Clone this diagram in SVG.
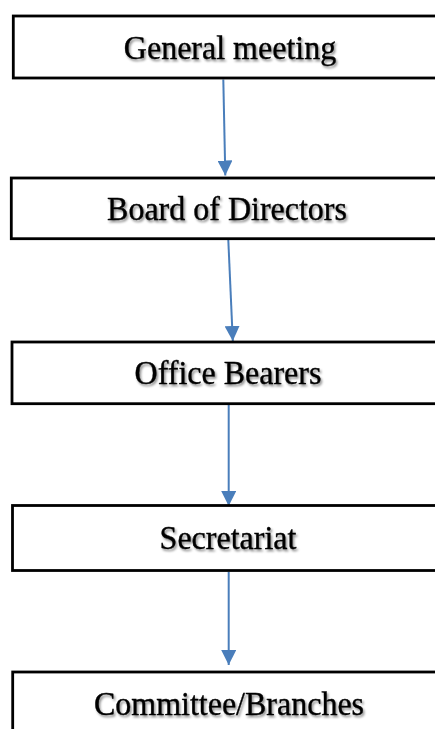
<svg xmlns="http://www.w3.org/2000/svg" width="435" height="729" viewBox="0 0 435 729">
  <defs>
    <style>
      .box { fill: #ffffff; stroke: #000000; stroke-width: 2.8; }
      .label { font-family: "Liberation Serif", "Times New Roman", serif; font-size: 32px; fill: #000000; stroke: #000000; stroke-width: 0.35; text-anchor: middle; filter: url(#soft-shadow); }
      .link { fill: none; stroke: #4a7ebb; stroke-width: 2; marker-end: url(#arrow); }
    </style>
    <filter id="soft-shadow" x="-10%" y="-30%" width="120%" height="160%">
      <feDropShadow dx="1.5" dy="2" stdDeviation="1" flood-color="#000000" flood-opacity="0.45"/>
    </filter>
    <marker id="arrow" markerUnits="userSpaceOnUse" markerWidth="15" markerHeight="15" refX="15" refY="7.5" orient="auto">
      <path d="M0,0 L15,7.5 L0,15 Z" fill="#4a7ebb"/>
    </marker>
  </defs>

  <rect width="435" height="729" fill="#ffffff"/>

  <!-- connectors -->
  <g id="connectors">
    <line class="link" x1="223.3" y1="79.5" x2="225.3" y2="175.5"/>
    <line class="link" x1="228.3" y1="240" x2="232.8" y2="341"/>
    <line class="link" x1="228.7" y1="405" x2="228.7" y2="506"/>
    <line class="link" x1="228.7" y1="572" x2="228.7" y2="665"/>
  </g>

  <!-- hierarchy levels; labels are stretched slightly in height -->
  <g id="general-meeting">
    <rect class="box" x="13.3" y="16" width="440" height="62"/>
    <text class="label" transform="translate(230 59) scale(1 1.06)">General meeting</text>
  </g>
  <g id="board-of-directors">
    <rect class="box" x="11.3" y="178" width="440" height="60.7"/>
    <text class="label" transform="translate(227 220) scale(1 1.06)">Board of Directors</text>
  </g>
  <g id="office-bearers">
    <rect class="box" x="12" y="342" width="440" height="61.7"/>
    <text class="label" transform="translate(228 384) scale(1 1.06)">Office Bearers</text>
  </g>
  <g id="secretariat">
    <rect class="box" x="12.5" y="505.5" width="440" height="65"/>
    <text class="label" transform="translate(228 549) scale(1 1.06)">Secretariat</text>
  </g>
  <g id="committee-branches">
    <rect class="box" x="12.7" y="672" width="440" height="70"/>
    <text class="label" transform="translate(229 715) scale(1 1.06)">Committee/Branches</text>
  </g>
</svg>
